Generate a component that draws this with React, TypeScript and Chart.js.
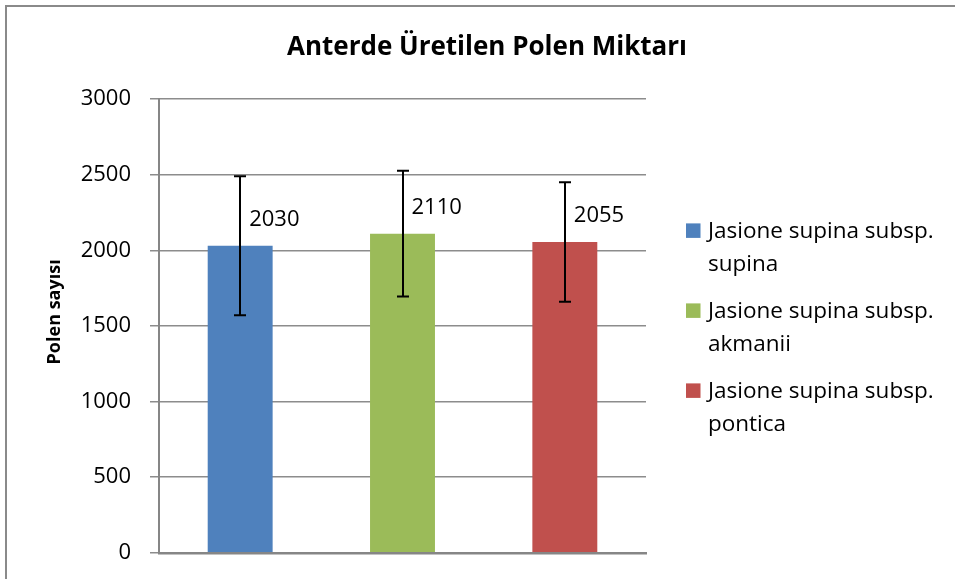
import React, { useEffect, useRef } from "react";
import { Chart, registerables } from "chart.js";

Chart.register(...registerables);

const chartTitle = "Anterde Üretilen Polen Miktarı";
const yAxisTitle = "Polen sayısı";
const categories = [
  "Jasione supina subsp. supina",
  "Jasione supina subsp. akmanii",
  "Jasione supina subsp. pontica",
];
const values = [2030, 2110, 2055];
const errors = [460, 415, 395];
const barColors = ["#4F81BD", "#9BBB59", "#C0504D"];
const yMin = 0;
const yMax = 3000;
const yStep = 500;

const FONT = "'Open Sans', 'Noto Sans', sans-serif";

function wrapText(ctx: CanvasRenderingContext2D, text: string, maxW: number): string[] {
  const words = text.split(" ");
  const lines: string[] = [];
  let cur = "";
  for (const w of words) {
    const test = cur ? cur + " " + w : w;
    if (ctx.measureText(test).width > maxW && cur) {
      lines.push(cur);
      cur = w;
    } else {
      cur = test;
    }
  }
  if (cur) lines.push(cur);
  return lines;
}

const decorPlugin = {
  id: "decor",
  afterDatasetsDraw(chart: any) {
    const ctx: CanvasRenderingContext2D = chart.ctx;
    const meta = chart.getDatasetMeta(0);
    const yScale = chart.scales.y;
    ctx.save();
    // error bars
    ctx.strokeStyle = "#000";
    ctx.lineWidth = 2;
    meta.data.forEach((bar: any, i: number) => {
      const x = Math.round(bar.x);
      const yTop = yScale.getPixelForValue(values[i] + errors[i]);
      const yBot = yScale.getPixelForValue(values[i] - errors[i]);
      ctx.beginPath();
      ctx.moveTo(x, yTop);
      ctx.lineTo(x, yBot);
      ctx.moveTo(x - 6, yTop);
      ctx.lineTo(x + 6, yTop);
      ctx.moveTo(x - 6, yBot);
      ctx.lineTo(x + 6, yBot);
      ctx.stroke();
    });
    // data labels
    ctx.fillStyle = "#000";
    ctx.font = `22px ${FONT}`;
    ctx.textAlign = "left";
    ctx.textBaseline = "middle";
    meta.data.forEach((bar: any, i: number) => {
      ctx.fillText(String(values[i]), bar.x + 9, bar.y - 26);
    });
    ctx.restore();
  },
  afterDraw(chart: any) {
    const ctx: CanvasRenderingContext2D = chart.ctx;
    const area = chart.chartArea;
    const cy = (area.top + area.bottom) / 2;
    ctx.save();
    // title
    ctx.fillStyle = "#000";
    ctx.font = `bold 26px ${FONT}`;
    ctx.textAlign = "center";
    ctx.textBaseline = "middle";
    ctx.fillText(chartTitle, chart.width / 2, 41);
    // y axis title
    ctx.save();
    ctx.translate(48, cy - 14);
    ctx.rotate(-Math.PI / 2);
    ctx.font = `bold 18px ${FONT}`;
    ctx.fillText(yAxisTitle, 0, 0);
    ctx.restore();
    // legend
    ctx.font = `22.5px ${FONT}`;
    ctx.textAlign = "left";
    ctx.textBaseline = "alphabetic";
    const sqX = area.right + 40;
    const txtX = area.right + 62;
    const lineH = 33;
    const itemH = 80;
    let baseline = cy - 87.5;
    categories.forEach((cat, i) => {
      const lines = wrapText(ctx, cat, 245);
      ctx.fillStyle = barColors[i];
      ctx.fillRect(sqX, baseline - 15, 14.5, 14.5);
      ctx.fillStyle = "#000";
      lines.forEach((ln, j) => ctx.fillText(ln, txtX, baseline + j * lineH));
      baseline += itemH;
    });
    ctx.restore();
  },
};

export default function App() {
  const ref = useRef<HTMLCanvasElement | null>(null);
  useEffect(() => {
    if (!ref.current) return;
    const chart = new Chart(ref.current, {
      type: "bar",
      data: {
        labels: categories,
        datasets: [
          {
            data: values,
            backgroundColor: barColors,
            borderWidth: 0,
            barPercentage: 0.4,
            categoryPercentage: 1.0,
          },
        ],
      },
      options: {
        responsive: false,
        animation: false,
        devicePixelRatio: 1,
        layout: { padding: { top: 92, bottom: 22, left: 0, right: 321 } },
        plugins: {
          legend: { display: false },
          title: { display: false },
          tooltip: { enabled: false },
        },
        scales: {
          x: {
            type: "category",
            ticks: { display: false },
            grid: { display: false },
            border: { display: true, color: "#868686", width: 2.5 },
            afterFit: (s: any) => {
              s.height = 0;
            },
          },
          y: {
            min: yMin,
            max: yMax,
            ticks: {
              stepSize: yStep,
              padding: 19,
              color: "#000",
              font: { family: FONT, size: 22 },
              callback: (v: any) => String(v),
            },
            grid: { color: "#8c8c8c", lineWidth: 1.5, tickLength: 9 },
            border: { display: true, color: "#868686", width: 2 },
            afterFit: (s: any) => {
              s.width = 152;
            },
          },
        },
      },
      plugins: [decorPlugin],
    });
    return () => chart.destroy();
  }, []);

  return (
    <div
      style={{
        position: "fixed",
        left: 0,
        top: 0,
        width: 955,
        height: 579,
        overflow: "hidden",
        background: "#fff",
      }}
    >
      <div
        style={{
          position: "absolute",
          left: 5,
          top: 5,
          width: 960,
          height: 600,
          border: "2px solid #8a8a8a",
        }}
      >
        <canvas ref={ref} width={960} height={578} style={{ display: "block" }} />
      </div>
    </div>
  );
}
